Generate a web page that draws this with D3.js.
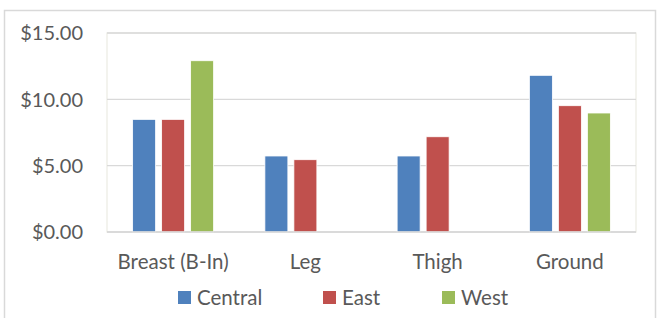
<!DOCTYPE html>
<meta charset="utf-8">
<script src="https://d3js.org/d3.v7.min.js"></script>
<style>
  body { margin: 0; background: #fff; }
  text { font-family: "Lato", "Open Sans", sans-serif; fill: #595959; }
</style>
<div id="chart"></div>
<script>
// chart data
var categories = ["Breast (B-In)", "Leg", "Thigh", "Ground"];
var series = ["Central", "East", "West"];
var colors = ["#4f81bd", "#c0504d", "#9bbb59"];
var central = [8.49, 5.73, 5.73, 11.81];
var east = [8.49, 5.45, 7.18, 9.52];
var west = [12.91, 0, 0, 8.97];
var yTicks = [0, 5, 10, 15];

var W = 657, H = 318;
var margin = {top: 33, right: 21, bottom: 86, left: 107};
var width = W - margin.left - margin.right,
    height = H - margin.top - margin.bottom;

var svg = d3.select("#chart").append("svg")
    .attr("width", W)
    .attr("height", H);

// outer chart border
svg.append("rect")
    .attr("x", 4.5).attr("y", 10.5)
    .attr("width", 651).attr("height", 320)
    .attr("fill", "none")
    .attr("stroke", "#d9d9d9")
    .attr("stroke-width", 1.5);

var g = svg.append("g")
    .attr("transform", "translate(" + margin.left + "," + margin.top + ")");

var groupW = 81;
var x = d3.scaleBand().domain(categories).range([0, width]);
var x1 = d3.scaleBand().domain(series).range([0, groupW]).paddingInner(0.207);
var y = d3.scaleLinear().domain([0, 15]).range([height, 0]);

// plot area border
g.append("rect")
    .attr("x", 0).attr("y", 0)
    .attr("width", width).attr("height", height)
    .attr("fill", "none")
    .attr("stroke", "#ebebe3")
    .attr("stroke-width", 1.2);

// gridlines
g.append("g").selectAll("line")
  .data(yTicks)
  .enter().append("line")
    .attr("x1", 0).attr("x2", width)
    .attr("y1", function(d) { return y(d); })
    .attr("y2", function(d) { return y(d); })
    .attr("stroke", "#d9d9d9")
    .attr("stroke-width", 1.3);

// y labels
g.append("g").selectAll("text")
  .data(yTicks)
  .enter().append("text")
    .attr("x", -24)
    .attr("y", function(d) { return y(d); })
    .attr("dy", "0.36em")
    .attr("text-anchor", "end")
    .style("font-size", "20px")
    .text(function(d) { return "$" + d.toFixed(2); });

// bars
var data = categories.map(function(c, i) {
  return {cat: c, vals: [central[i], east[i], west[i]]};
});

var groups = g.append("g").selectAll("g")
  .data(data)
  .enter().append("g")
    .attr("transform", function(d) {
      return "translate(" + (x(d.cat) + x.bandwidth() / 2 - groupW / 2) + ",0)";
    });

groups.selectAll("rect")
  .data(function(d) { return d.vals.map(function(v, j) { return {s: series[j], v: v, c: colors[j]}; }); })
  .enter().append("rect")
    .filter(function(d) { return d.v > 0; })
    .attr("x", function(d) { return x1(d.s); })
    .attr("y", function(d) { return y(d.v); })
    .attr("width", x1.bandwidth())
    .attr("height", function(d) { return y(0) - y(d.v); })
    .attr("fill", function(d) { return d.c; })
    .attr("stroke", "#fff")
    .attr("stroke-width", 0.8);

// baseline
g.append("line")
    .attr("x1", 0).attr("x2", width)
    .attr("y1", y(0)).attr("y2", y(0))
    .attr("stroke", "#d9d9d9")
    .attr("stroke-width", 1.5);

// category labels
g.append("g").selectAll("text")
  .data(categories)
  .enter().append("text")
    .attr("x", function(d) { return x(d) + x.bandwidth() / 2; })
    .attr("y", height + 37)
    .attr("text-anchor", "middle")
    .style("font-size", "20.5px")
    .text(function(d) { return d; });

// legend
var legendX = [178, 323, 442];
var legend = svg.append("g").selectAll("g")
  .data(series)
  .enter().append("g")
    .attr("transform", function(d, i) { return "translate(" + legendX[i] + ",291)"; });

legend.append("rect")
    .attr("width", 13).attr("height", 13)
    .attr("fill", function(d, i) { return colors[i]; });

legend.append("text")
    .attr("x", 19).attr("y", 14)
    .style("font-size", "20.5px")
    .text(function(d) { return d; });
</script>
